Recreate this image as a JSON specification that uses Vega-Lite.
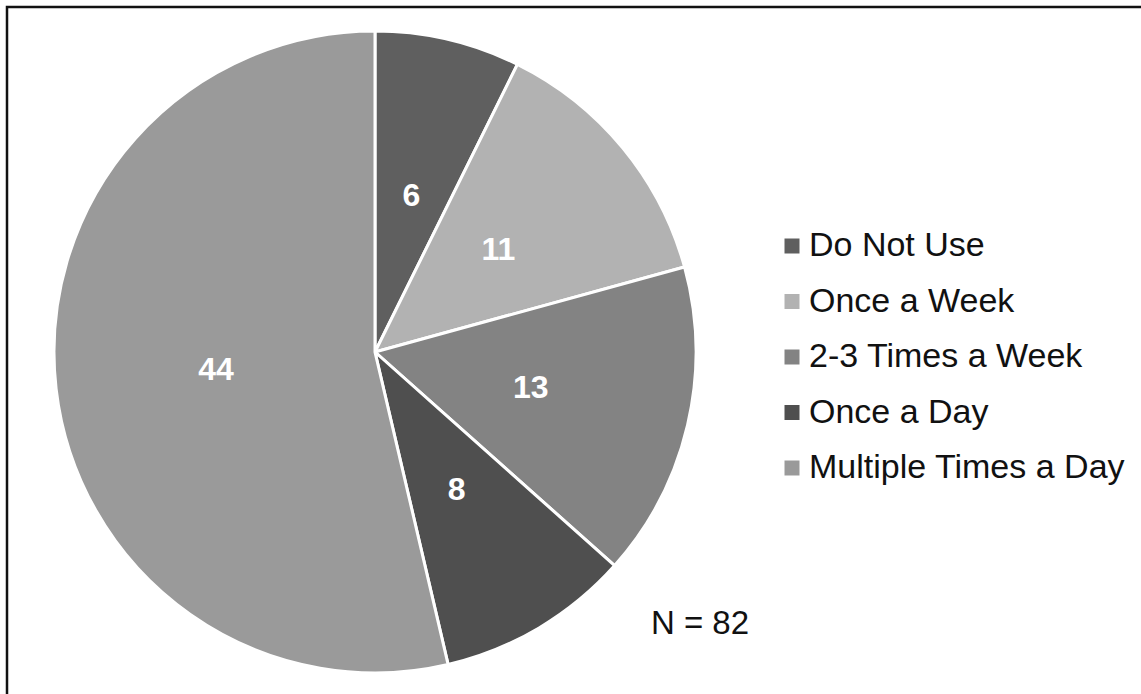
{
  "$schema": "https://vega.github.io/schema/vega-lite/v6.json",
  "width": 1139,
  "height": 692,
  "autosize": {"type": "none"},
  "padding": {"left": 7, "top": 7, "right": -5, "bottom": -5},
  "background": "white",
  "config": {
    "view": {"stroke": "#111111", "strokeWidth": 2.5},
    "font": "Liberation Sans"
  },
  "data": {
    "values": [
      {"category": "Do Not Use", "count": 6, "idx": 1},
      {"category": "Once a Week", "count": 11, "idx": 2},
      {"category": "2-3 Times a Week", "count": 13, "idx": 3},
      {"category": "Once a Day", "count": 8, "idx": 4},
      {"category": "Multiple Times a Day", "count": 44, "idx": 5}
    ]
  },
  "layer": [
    {
      "mark": {"type": "arc", "radius": 321, "stroke": "white", "strokeWidth": 3},
      "encoding": {
        "x": {"value": 368},
        "y": {"value": 345},
        "theta": {"field": "count", "type": "quantitative", "stack": true},
        "order": {"field": "idx", "type": "quantitative"},
        "color": {
          "field": "category",
          "type": "nominal",
          "sort": ["Do Not Use", "Once a Week", "2-3 Times a Week", "Once a Day", "Multiple Times a Day"],
          "scale": {
            "domain": ["Do Not Use", "Once a Week", "2-3 Times a Week", "Once a Day", "Multiple Times a Day"],
            "range": ["#5f5f5f", "#b2b2b2", "#838383", "#4f4f4f", "#9a9a9a"]
          },
          "legend": {
            "orient": "none",
            "legendX": 768,
            "legendY": 222,
            "title": null,
            "symbolType": "square",
            "symbolSize": 225,
            "symbolStrokeWidth": 0,
            "labelFontSize": 34,
            "labelFont": "Liberation Sans",
            "labelColor": "#111111",
            "labelOffset": 0,
            "rowPadding": 21.5,
            "labelLimit": 400
          }
        }
      }
    },
    {
      "mark": {"type": "text", "radius": 160, "fontSize": 32, "fontWeight": "bold", "fill": "white", "font": "Liberation Sans"},
      "encoding": {
        "x": {"value": 368},
        "y": {"value": 345},
        "theta": {"field": "count", "type": "quantitative", "stack": true},
        "order": {"field": "idx", "type": "quantitative"},
        "text": {"field": "count", "type": "quantitative"}
      }
    },
    {
      "data": {"values": [{"note": "N = 82"}]},
      "mark": {"type": "text", "fontSize": 33, "fill": "#111111", "font": "Liberation Sans"},
      "encoding": {
        "x": {"value": 693},
        "y": {"value": 617},
        "text": {"field": "note", "type": "nominal"}
      }
    }
  ]
}
